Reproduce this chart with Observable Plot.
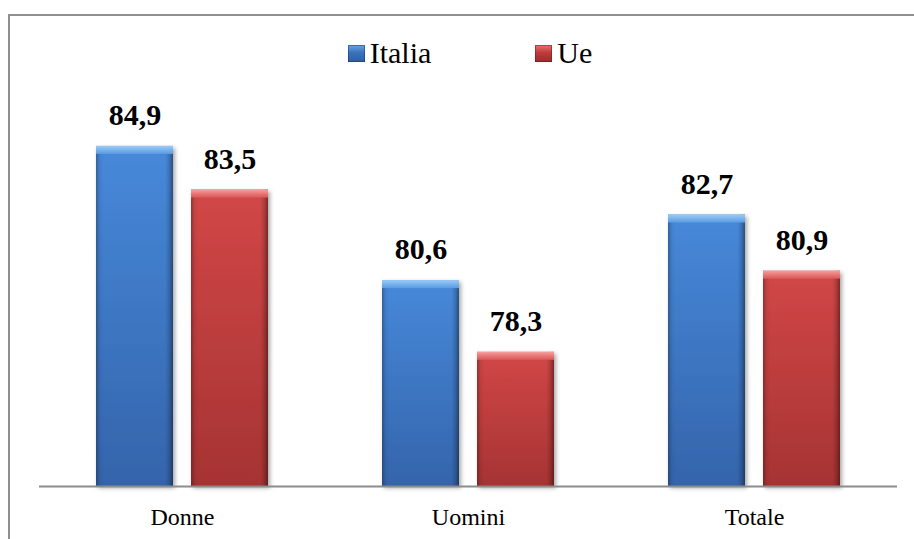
<!DOCTYPE html>
<html>
<head>
<meta charset="utf-8">
<script src="https://cdn.jsdelivr.net/npm/d3@7"></script>
<script src="https://cdn.jsdelivr.net/npm/@observablehq/plot@0.6"></script>
<style>
  html, body { margin: 0; padding: 0; background: #fff; }
  body { width: 914px; height: 539px; overflow: hidden; position: relative; font-family: 'Liberation Serif'; }
  #chart svg { display: block; }
</style>
</head>
<body>
<div id="frame" style="position:absolute;left:8px;top:14px;width:940px;height:560px;border-left:2px solid #8f8f8f;border-top:2px solid #8f8f8f;pointer-events:none"></div>
<div id="legend" style="height:75px;box-sizing:border-box;padding-top:38px;padding-left:26px;text-align:center;white-space:nowrap;font-family:'Liberation Serif';font-size:30px;line-height:30px;color:#000"></div>
<div id="chart"></div>
<script>
// ---- data ----
const categories = ["Donne", "Uomini", "Totale"];
const series = ["Italia", "Ue"];
const italia = [84.9, 80.6, 82.7];
const ue = [83.5, 78.3, 80.9];
const yMin = 74;
const yMax = 86;

const data = categories.flatMap((c, i) => [
  {category: c, series: "Italia", value: italia[i]},
  {category: c, series: "Ue", value: ue[i]}
]);
const fmt = v => v.toFixed(1).replace(".", ",");
const serif = "'Liberation Serif'";

// ---- legend ----
const swatch = [
  "background:linear-gradient(#6aa6e6,#3a72bc 45%,#2f5f9f);box-shadow:inset 0 0 0 1px rgba(20,40,90,0.45)",
  "background:linear-gradient(#e87474,#c03a3a 45%,#9c2c2c);box-shadow:inset 0 0 0 1px rgba(90,20,20,0.45)"
];
const legend = document.getElementById("legend");
legend.innerHTML = series.map((s, i) =>
  `<span style="display:inline-block;${i ? "margin-left:104px;" : ""}">` +
  `<span style="display:inline-block;width:17px;height:17px;margin-right:5px;position:relative;top:-1px;box-sizing:border-box;${swatch[i]}"></span>${s}</span>`).join("");

// ---- chart ----
const common = {fx: "category", x: "series"};
const chart = Plot.plot({
  width: 914,
  height: 464,
  marginLeft: 38,
  marginRight: 16,
  marginTop: 36.6,
  marginBottom: 53,
  style: {fontFamily: serif, fontSize: "24px", background: "transparent", overflow: "visible"},
  fx: {domain: categories, paddingInner: 0, paddingOuter: 0, label: null, axis: null},
  x: {domain: series, paddingInner: 0.188, paddingOuter: 0.595, axis: null},
  y: {domain: [yMin, yMax], axis: null},
  marks: [
    Plot.axisFx({anchor: "bottom", tickSize: 0, tickPadding: 21, label: null, fontSize: 24}),
    // bar bodies
    Plot.barY(data, {...common, y1: yMin, y2: "value", filter: d => d.series === "Italia", fill: "url(#bodyBlue)"}),
    Plot.barY(data, {...common, y1: yMin, y2: "value", filter: d => d.series === "Ue", fill: "url(#bodyRed)"}),
    // side edge shading
    Plot.barY(data, {...common, y1: yMin, y2: "value", fill: "url(#edges)"}),
    // top bevel
    Plot.barY(data, {...common, y1: "value", y2: "value", insetBottom: -8, filter: d => d.series === "Italia", fill: "url(#bevelBlue)"}),
    Plot.barY(data, {...common, y1: "value", y2: "value", insetBottom: -8, filter: d => d.series === "Ue", fill: "url(#bevelRed)"}),
    // baseline
    Plot.ruleY([yMin], {stroke: "#8c8c8c", strokeWidth: 2}),
    // value labels
    Plot.text(data, {...common, y: "value", text: d => fmt(d.value), dy: -31, lineAnchor: "middle",
      fontSize: 30, fontWeight: "bold", fill: "#000"})
  ]
});
document.getElementById("chart").appendChild(chart);

// ---- gradients / shadow defs ----
const svg = d3.select(chart.tagName.toLowerCase() === "svg" ? chart : chart.querySelector("svg"));
svg.attr("font-family", "Liberation Serif");
svg.selectAll("text").style("font-family", serif);
const defs = svg.insert("defs", ":first-child");
function vgrad(id, stops) {
  const g = defs.append("linearGradient").attr("id", id).attr("x1", 0).attr("y1", 0).attr("x2", 0).attr("y2", 1);
  stops.forEach(([o, c, op]) => g.append("stop").attr("offset", o).attr("stop-color", c).attr("stop-opacity", op ?? 1));
}
vgrad("bodyBlue", [[0, "#4789da"], [1, "#3464ab"]]);
vgrad("bodyRed", [[0, "#d24747"], [1, "#a63333"]]);
vgrad("bevelBlue", [[0, "#9ccbf6"], [0.5, "#78b3ee"], [1, "#5b9be2"]]);
vgrad("bevelRed", [[0, "#f4a0a0"], [0.5, "#ea7777"], [1, "#d85858"]]);
const e = defs.append("linearGradient").attr("id", "edges").attr("x1", 0).attr("y1", 0).attr("x2", 1).attr("y2", 0);
[[0, "#000", 0.28], [0.05, "#000", 0.05], [0.1, "#000", 0], [0.9, "#000", 0], [0.95, "#000", 0.15], [1, "#000", 0.42]]
  .forEach(([o, c, op]) => e.append("stop").attr("offset", o).attr("stop-color", c).attr("stop-opacity", op));
const f = defs.append("filter").attr("id", "shadow").attr("x", "-10%").attr("y", "-10%").attr("width", "130%").attr("height", "130%");
f.append("feDropShadow").attr("dx", 2).attr("dy", 2).attr("stdDeviation", 2).attr("flood-color", "#000").attr("flood-opacity", 0.35);
svg.selectAll('g[fill="url(#bodyBlue)"], g[fill="url(#bodyRed)"]').attr("filter", "url(#shadow)");
</script>
</body>
</html>
